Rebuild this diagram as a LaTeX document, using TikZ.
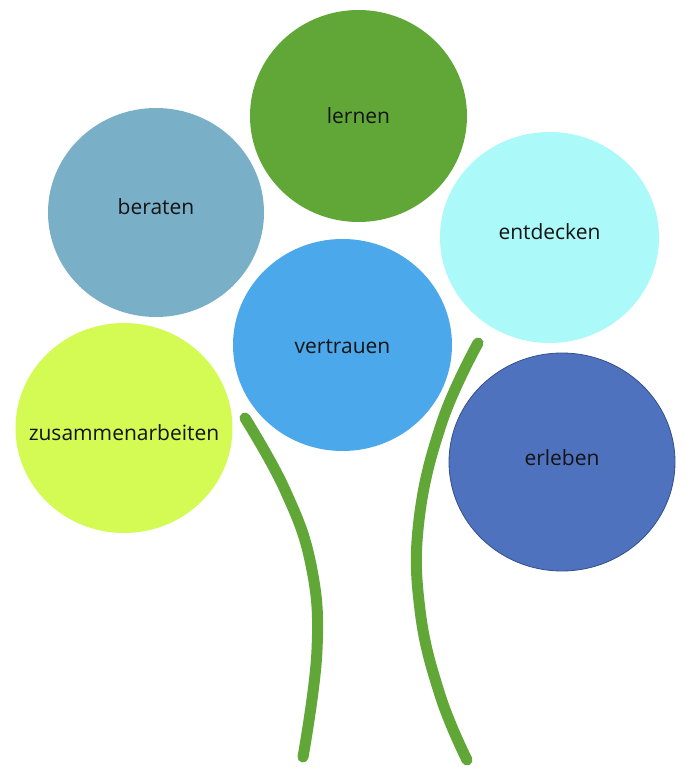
\documentclass[tikz,border=0pt]{standalone}
\usepackage{fontspec}
\setmainfont{Open Sans}
\usetikzlibrary{shapes.geometric}
\definecolor{cLernen}{HTML}{61A737}
\definecolor{cBeraten}{HTML}{7AAFC8}
\definecolor{cEntdecken}{HTML}{ABF9F8}
\definecolor{cVertrauen}{HTML}{4BA8EA}
\definecolor{cZusammen}{HTML}{D4FA54}
\definecolor{cErleben}{HTML}{4E72BE}
\definecolor{cErlebenRim}{HTML}{34508A}
\definecolor{cStem}{HTML}{61A737}
\definecolor{cText}{HTML}{141414}
\begin{document}
\begin{tikzpicture}[x=1pt,y=-1pt,
  bloom/.style={ellipse, inner sep=0pt},
  word/.style={inner sep=0pt, text=cText, font=\fontsize{21}{25}\selectfont},
  stem/.style={draw=cStem, line width=11pt, line cap=round}]
\useasboundingbox (0,0) rectangle (690,784);
\fill[white] (0,0) rectangle (690,784);
% stems
\draw[stem] plot[smooth, tension=0.7] coordinates {(245,418) (285,490) (311,565) (317,650) (303,757)};
\draw[stem] plot[smooth, tension=0.7] coordinates {(478,343) (442,422) (419,520) (420,610) (440,695) (467,760)};
% blooms
\node[bloom, fill=cLernen, minimum width=217pt, minimum height=212pt] (lernen) at (358.5,116) {};
\node[bloom, fill=cBeraten, minimum width=216pt, minimum height=209pt] (beraten) at (156,212.5) {};
\node[bloom, fill=cEntdecken, minimum width=219pt, minimum height=211pt] (entdecken) at (549.5,237.5) {};
\node[bloom, fill=cVertrauen, minimum width=219pt, minimum height=212pt] (vertrauen) at (342.5,345) {};
\node[bloom, fill=cZusammen, minimum width=217pt, minimum height=210pt] (zusammen) at (124,428) {};
\node[bloom, fill=cErleben, draw=cErlebenRim, line width=0.8pt, minimum width=226pt, minimum height=218pt] (erleben) at (562,462) {};
% labels
\node[word] (lernen-t) at (lernen.center) {lernen};
\node[word] (beraten-t) at ([yshift=6pt]beraten.center) {beraten};
\node[word] (entdecken-t) at ([yshift=6pt]entdecken.center) {entdecken};
\node[word] (vertrauen-t) at ([yshift=-2pt]vertrauen.center) {vertrauen};
\node[word] (zusammen-t) at ([yshift=-5pt]zusammen.center) {zusammenarbeiten};
\node[word] (erleben-t) at ([yshift=4pt]erleben.center) {erleben};
\end{tikzpicture}
\end{document}
